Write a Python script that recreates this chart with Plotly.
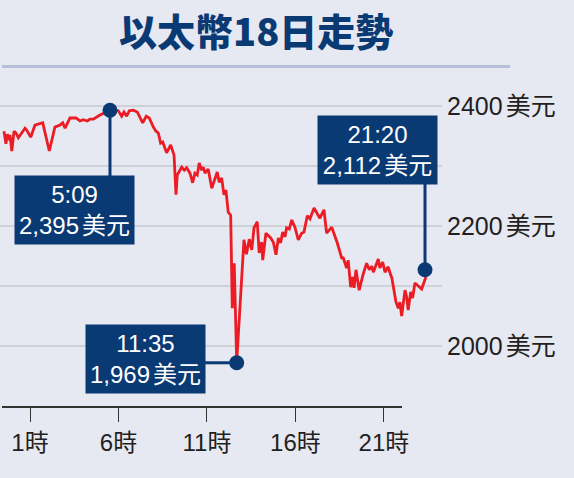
import plotly.graph_objects as go

# ---- data ----
hours = [-0.47, -0.36, -0.28, -0.19, -0.13, -0.03, 0.10, 0.21, 0.34, 0.72, 0.81, 1.04, 1.28, 1.47, 1.72, 1.79,
         2.09, 2.41, 2.69, 2.85, 2.98, 3.26, 3.60, 3.82, 4.01, 4.24, 4.39, 4.58, 4.95, 5.33, 5.52, 5.99,
         6.18, 6.31, 6.46, 6.61, 6.84, 7.06, 7.21, 7.37, 7.57, 7.74, 7.97, 8.12, 8.25, 8.38, 8.50, 8.72,
         8.95, 9.06, 9.14, 9.25, 9.32, 9.57, 9.72, 9.85, 10.04, 10.19, 10.32, 10.45, 10.56, 10.70, 10.79, 10.89,
         11.07, 11.27, 11.40, 11.58, 11.69, 11.83, 11.96, 12.07, 12.20, 12.34, 12.43, 12.54, 12.68, 12.86, 13.09, 13.23,
         13.39, 13.53, 13.66, 13.84, 13.95, 14.09, 14.15, 14.33, 14.60, 14.75, 14.90, 15.03, 15.16, 15.28, 15.41, 15.50,
         15.65, 15.79, 15.97, 16.16, 16.35, 16.48, 16.67, 16.82, 17.05, 17.38, 17.61, 17.76, 18.05, 18.36, 18.61, 18.70,
         18.89, 18.98, 19.12, 19.23, 19.31, 19.42, 19.60, 19.83, 20.02, 20.17, 20.31, 20.40, 20.55, 20.68, 20.77, 20.93,
         21.06, 21.24, 21.34, 21.45, 21.68, 21.81, 21.90, 22.00, 22.19, 22.28, 22.37, 22.51, 22.62, 22.75, 23.13, 23.37]
prices = [2358, 2337, 2353, 2343, 2352, 2325, 2358, 2355, 2347, 2363, 2360, 2348, 2368, 2370, 2372, 2363,
          2325, 2365, 2368, 2372, 2363, 2380, 2380, 2375, 2377, 2375, 2378, 2378, 2385, 2390, 2393, 2392,
          2383, 2390, 2383, 2392, 2393, 2390, 2380, 2372, 2383, 2380, 2365, 2358, 2355, 2338, 2340, 2322,
          2335, 2327, 2318, 2252, 2285, 2298, 2293, 2297, 2288, 2272, 2288, 2285, 2305, 2293, 2298, 2288,
          2295, 2263, 2273, 2290, 2273, 2280, 2252, 2260, 2223, 2218, 2063, 2138, 1973, 2065, 2177, 2153,
          2178, 2160, 2197, 2207, 2155, 2173, 2143, 2188, 2180, 2173, 2152, 2180, 2172, 2190, 2182, 2197,
          2195, 2210, 2198, 2177, 2188, 2190, 2217, 2212, 2230, 2213, 2227, 2188, 2198, 2172, 2147, 2147,
          2130, 2143, 2098, 2115, 2097, 2127, 2093, 2120, 2138, 2127, 2133, 2123, 2137, 2145, 2130, 2140,
          2123, 2132, 2122, 2113, 2073, 2063, 2073, 2050, 2093, 2082, 2060, 2090, 2080, 2105, 2095, 2115]

x_tick_vals = [1, 6, 11, 16, 21]
x_tick_text = ["1時", "6時", "11時", "16時", "21時"]
y_tick_vals = [2000, 2100, 2200, 2300, 2400]
y_tick_nums = ["2000", "", "2200", "", "2400"]
unit = "美元"

# highlighted points
mark_hours = [5.52, 12.68, 23.32]
mark_prices = [2393, 1972, 2127]
mark_times = ["5:09", "11:35", "21:20"]
mark_values = ["2,395", "1,969", "2,112"]
# label box centres (axis units)
box_hours = [3.51, 7.53, 20.66]
box_prices = [2227, 1979, 2327]

title_text = "以太幣18日走勢"

NAVY = "#0a3a74"
BG = "#e6e8f2"
FONT = "Liberation Sans, Arial, Noto Sans CJK TC, sans-serif"
GAP = "<span style='font-size:11px'> </span>"

y_tick_text = [(n + GAP + unit) if n else "" for n in y_tick_nums]

fig = go.Figure()

fig.add_trace(go.Scatter(x=hours, y=prices, mode="lines",
                         line=dict(color="#ec1c24", width=2.8), hoverinfo="skip"))

# connectors
conn = [
    dict(x0=mark_hours[0], x1=mark_hours[0], y0=mark_prices[0], y1=2282),
    dict(x0=10.89, x1=mark_hours[1], y0=mark_prices[1], y1=mark_prices[1]),
    dict(x0=mark_hours[2], x1=mark_hours[2], y0=2272, y1=mark_prices[2]),
]
for c in conn:
    fig.add_shape(type="line", xref="x", yref="y", line=dict(color=NAVY, width=3), **c)

fig.add_trace(go.Scatter(x=mark_hours, y=mark_prices, mode="markers",
                         marker=dict(color=NAVY, size=15), hoverinfo="skip"))

for bx, by, tm, val in zip(box_hours, box_prices, mark_times, mark_values):
    fig.add_annotation(x=bx, y=by, xref="x", yref="y", text=tm + "<br>" + val + GAP + unit,
                       showarrow=False, xanchor="center", yanchor="middle", align="center",
                       bgcolor=NAVY, width=113, height=62, borderpad=3,
                       font=dict(family=FONT, size=24, color="white"))

# bottom axis line
fig.add_shape(type="line", xref="x domain", yref="y domain", x0=0.0045, x1=0.9095, y0=0, y1=0,
              line=dict(color="#333333", width=2))

# title underline
fig.add_shape(type="line", xref="paper", yref="paper", x0=0.0045, x1=1.154, y0=1.0607, y1=1.0607,
              line=dict(color="#b6bed8", width=3))

fig.add_annotation(text=title_text, xref="paper", yref="paper", x=0.579, y=1.175,
                   xanchor="center", yanchor="middle", showarrow=False,
                   font=dict(family="Noto Sans CJK TC, serif", size=38, color=NAVY, weight=900))

fig.update_layout(
    width=574, height=478,
    margin=dict(l=0, r=132, t=86, b=71, pad=0),
    paper_bgcolor=BG, plot_bgcolor=BG,
    showlegend=False,
    hovermode=False,
    xaxis=dict(range=[-0.695, 24.28], tickvals=x_tick_vals, ticktext=x_tick_text,
               ticks="outside", ticklen=14, tickwidth=1, tickcolor="#333333",
               showgrid=False, zeroline=False, showline=False, fixedrange=True,
               tickfont=dict(family=FONT, size=24, color="#231f20")),
    yaxis=dict(range=[1898.3, 2433.3], tickvals=y_tick_vals, ticktext=y_tick_text,
               side="right", ticks="", showgrid=True, gridcolor="#cfd1d9", gridwidth=1.5,
               zeroline=False, showline=False, ticklabelstandoff=4, fixedrange=True,
               tickfont=dict(family=FONT, size=25, color="#231f20")),
)

fig.write_html("out.html", config={"displayModeBar": False},
               post_script="document.body.style.margin='0';")
